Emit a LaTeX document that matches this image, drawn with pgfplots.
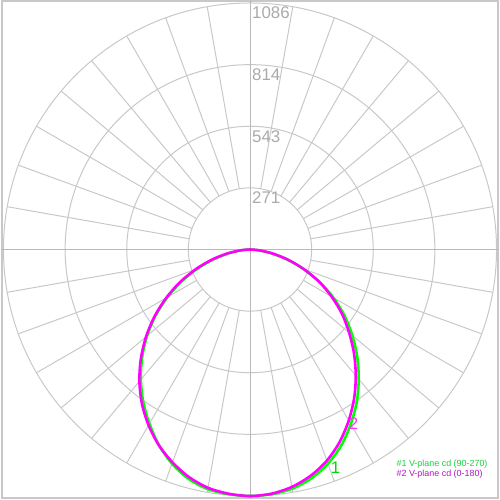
\documentclass[border=0pt]{standalone}
\usepackage{pgfplots}
\pgfplotsset{compat=1.18}
\usepackage{pgfplotstable}
\usepackage{fontspec}
\setmainfont{Liberation Sans}
\definecolor{gridc}{RGB}{200,200,200}
\definecolor{axc}{RGB}{185,185,185}
\definecolor{labc}{RGB}{170,170,170}
\definecolor{cgreen}{RGB}{0,255,0}
\definecolor{cmag}{RGB}{255,0,255}
\definecolor{tgreen}{RGB}{20,210,60}
\definecolor{tmag}{RGB}{175,20,200}

% angle (deg from nadir; negative = left), intensity (cd)
\pgfplotstableread{
a I
-90 0
-85 36
-80 94
-75 166
-70 246
-65 332
-60 420
-55 508
-50 592
-45 672
-40 748
-35 820
-30 886
-25 950
-20 1004
-15 1046
-10 1072
-5 1082
0 1086
5 1082
10 1070
15 1044
20 1004
25 952
30 888
35 820
40 745
45 668
50 588
55 508
60 424
65 338
70 250
75 168
80 96
85 36
90 0
}\greendata

\pgfplotstableread{
a I
-90 0
-85 40
-80 102
-75 175
-70 255
-65 340
-60 426
-55 513
-50 598
-45 680
-40 758
-35 830
-30 894
-25 951
-20 998
-15 1038
-10 1066
-5 1080
0 1086
5 1080
10 1062
15 1032
20 990
25 935
30 870
35 800
40 725
45 648
50 570
55 495
60 415
65 335
70 252
75 173
80 100
85 40
90 0
}\magdata

\begin{document}
\begin{tikzpicture}
\begin{axis}[
  scale only axis, width=500bp, height=500bp,
  xmin=-1097, xmax=1097, ymin=-1097, ymax=1097,
  hide axis, clip=false,
]
% frame
\draw[gridc, line width=2bp] ([shift={(1bp,1bp)}]rel axis cs:0,0) rectangle ([shift={(-1bp,-1bp)}]rel axis cs:1,1);
% rings
\draw[gridc, line width=1bp] (axis cs:0,0) circle (61.9bp);
\draw[gridc, line width=1bp] (axis cs:0,0) circle (123.75bp);
\draw[gridc, line width=1bp] (axis cs:0,0) circle (185.6bp);
\draw[gridc, line width=1bp] (axis cs:0,0) circle (247.5bp);
% radial lines
\pgfplotsinvokeforeach{0,10,...,350}{
  \draw[gridc, line width=1bp] (axis cs:0,0) ++(#1:61.9bp) -- ++(#1:185.6bp);
}
% centre lines
\draw[axc, line width=2bp] (axis cs:-1097,0) -- (axis cs:1097,0);
\draw[axc, line width=1bp] (axis cs:0,-1097) -- (axis cs:0,1097);
% ring labels
\node[anchor=north west, inner sep=0pt, text=labc, font=\fontsize{17}{17}\selectfont]
    at ([shift={(2bp,-4bp)}]axis cs:0,271) {271};
\node[anchor=north west, inner sep=0pt, text=labc, font=\fontsize{17}{17}\selectfont]
    at ([shift={(2bp,-4bp)}]axis cs:0,543) {543};
\node[anchor=north west, inner sep=0pt, text=labc, font=\fontsize{17}{17}\selectfont]
    at ([shift={(2bp,-4bp)}]axis cs:0,814) {814};
\node[anchor=north west, inner sep=0pt, text=labc, font=\fontsize{17}{17}\selectfont]
    at ([shift={(2bp,-4bp)}]axis cs:0,1086) {1086};
% curves
\addplot[cgreen, line width=2.6bp, smooth, tension=0.5]
  table[x expr={\thisrow{I}*sin(\thisrow{a})}, y expr={-\thisrow{I}*cos(\thisrow{a})}] {\greendata};
\addplot[cmag, line width=2.6bp, smooth, tension=0.5]
  table[x expr={\thisrow{I}*sin(\thisrow{a})}, y expr={-\thisrow{I}*cos(\thisrow{a})}] {\magdata};
% curve labels
\node[text=cmag!80!white, font=\fontsize{17}{17}\selectfont, inner sep=0pt] at ([shift={(104bp,-175bp)}]axis cs:0,0) {2};
\node[text=cgreen!85!black, font=\fontsize{17}{17}\selectfont, inner sep=0pt] at ([shift={(86bp,-219bp)}]axis cs:0,0) {1};
% legend text
\node[anchor=base west, inner sep=0pt, text=tgreen, font=\fontsize{9}{9}\selectfont] at ([shift={(147bp,-218bp)}]axis cs:0,0) {\#1 V-plane cd (90-270)};
\node[anchor=base west, inner sep=0pt, text=tmag, font=\fontsize{9}{9}\selectfont] at ([shift={(147bp,-228bp)}]axis cs:0,0) {\#2 V-plane cd (0-180)};
\end{axis}
\end{tikzpicture}
\end{document}
